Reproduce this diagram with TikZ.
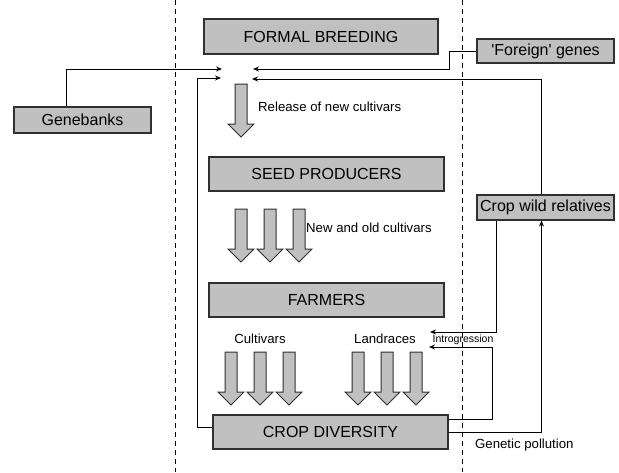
\documentclass[tikz,border=0pt]{standalone}
\usepackage{fontspec}
\setmainfont{Liberation Sans}
\newfontfamily\plainfont{Liberation Sans}
\usetikzlibrary{arrows.meta,calc}
\definecolor{boxgray}{HTML}{C0C0C0}
\definecolor{edgegray}{HTML}{303030}
\tikzset{
  box/.style={draw=edgegray, fill=boxgray, line width=1.1pt, inner sep=0pt,
    font=\fontsize{16}{19}\selectfont},
  lbl/.style={inner sep=0pt, font=\fontsize{13.2}{15}\selectfont},
  smalllbl/.style={inner sep=0pt, font=\fontsize{10.5}{12}\selectfont},
  conn/.style={draw=black, line width=0.9pt, -{Stealth[length=6pt,width=5pt]}},
  divider/.style={draw=black, line width=0.9pt, dash pattern=on 5pt off 4pt},
  bigarrow/.pic={
    \draw[draw=edgegray, fill=boxgray, line width=1pt, line join=miter]
      (-6,0) -- (-6,40) -- (-13,40) -- (0,53) -- (13,40) -- (6,40) -- (6,0) -- cycle;
  }
}
\begin{document}
\begin{tikzpicture}[x=1pt, y=-1pt]
\useasboundingbox (0,0) rectangle (619,472);

% dashed dividers
\draw[divider] (175,0) -- (175,472);
\draw[divider] (462.5,0) -- (462.5,472);

% boxes
\node[box, minimum width=234pt, minimum height=35pt] (fb) at (321,36.5) {FORMAL BREEDING};
\node[box, minimum width=235pt, minimum height=34pt] (sp) at (326.5,174) {SEED PRODUCERS};
\node[box, minimum width=235pt, minimum height=34pt] (fa) at (326.5,300) {FARMERS};
\node[box, minimum width=235pt, minimum height=34pt] (cd) at (330.5,432) {CROP DIVERSITY};
\node[box, minimum width=137pt, minimum height=26pt] (gb) at (82.5,120) {Genebanks};
\node[box, minimum width=137pt, minimum height=24pt] (fg) at (545.5,51) {\plainfont 'Foreign' genes};
\node[box, minimum width=137pt, minimum height=25pt] (cwr) at (545.5,207.5) {Crop wild relatives};

% arrow end points
\coordinate (inA) at (222,69);
\coordinate (inB) at (221,78);
\coordinate (inC) at (253,69);
\coordinate (inD) at (252,79);
\coordinate (intA) at (430,332);
\coordinate (intB) at (429,347);

% connectors
\draw[conn] ([xshift=53pt]gb.north west) |- (inA);
\draw[conn] ([yshift=5pt]cd.west) -- ++(-15,0) |- (inB);
\draw[conn] (fg.west) -- ++(-27,0) |- (inC);
\draw[conn] ([xshift=-4pt]cwr.north) |- (inD);
\draw[conn] ([xshift=20pt]cwr.south west) |- (intA);
\draw[conn] ([yshift=13pt]cd.east) -- ++(44,0) |- (intB);
\draw[conn] (cd.east) -| ([xshift=-4pt]cwr.south);

% big flow arrows
\pic at (241,84) {bigarrow};
\pic at (241,209) {bigarrow};
\pic at (270,209) {bigarrow};
\pic at (299,209) {bigarrow};
\pic at (231,352) {bigarrow};
\pic at (260,352) {bigarrow};
\pic at (289,352) {bigarrow};
\pic at (358,352) {bigarrow};
\pic at (387,352) {bigarrow};
\pic at (416,352) {bigarrow};

% labels
\node[lbl, anchor=west] (l1) at (258,107) {Release of new cultivars};
\node[lbl, anchor=west] (l2) at (306,228) {New and old cultivars};
\node[lbl] (l3) at (260,339) {Cultivars};
\node[lbl] (l4) at (385,339) {Landraces};
\node[smalllbl, anchor=west] (l5) at (432.5,339.5) {Introgression};
\node[lbl, anchor=west] (l6) at (475,445) {Genetic pollution};
\end{tikzpicture}
\end{document}
